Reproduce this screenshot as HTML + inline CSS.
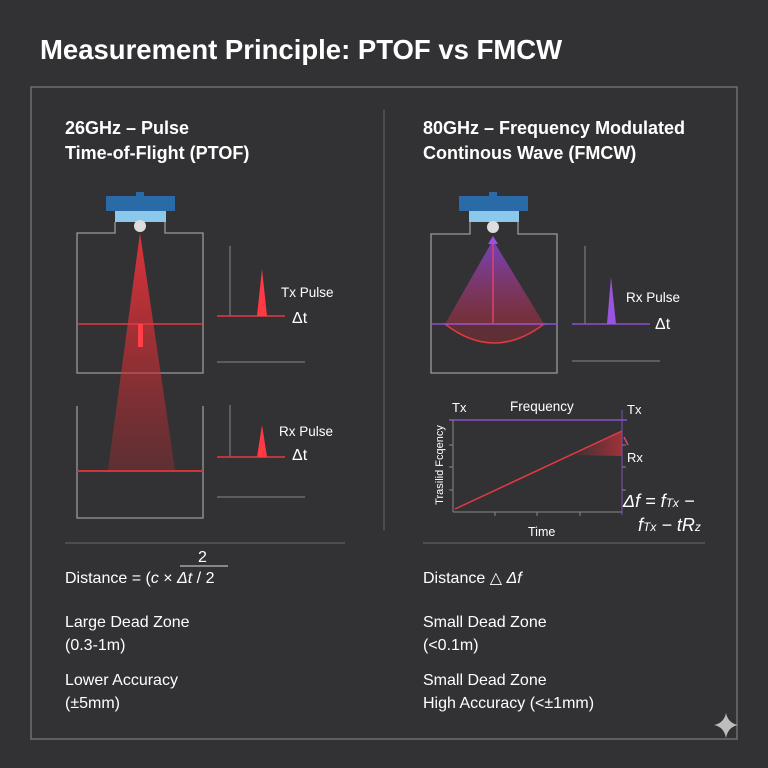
<!DOCTYPE html>
<html><head><meta charset="utf-8"><style>
html,body{margin:0;padding:0;background:#323234;}
svg{display:block;font-family:"Liberation Sans",sans-serif;}
</style></head><body>
<svg width="768" height="768" viewBox="0 0 768 768">
<defs>
<linearGradient id="rb" x1="0" y1="0" x2="0" y2="1">
<stop offset="0" stop-color="#e8333a" stop-opacity="0.95"/><stop offset="1" stop-color="#c02a30" stop-opacity="0.3"/></linearGradient>
<linearGradient id="pb" x1="0" y1="0" x2="0" y2="1">
<stop offset="0" stop-color="#7a45d0" stop-opacity="0.9"/><stop offset="1" stop-color="#c03040" stop-opacity="0.45"/></linearGradient>
<linearGradient id="sh" x1="1" y1="0" x2="0" y2="0">
<stop offset="0" stop-color="#d0303a" stop-opacity="0.7"/><stop offset="1" stop-color="#d0303a" stop-opacity="0"/></linearGradient>
</defs>
<rect width="768" height="768" fill="#323234"/>
<text x="40" y="59" font-size="27.5" font-weight="bold" fill="#fff">Measurement Principle: PTOF vs FMCW</text>
<rect x="31" y="87" width="706" height="652" fill="none" stroke="#6e6e70" stroke-width="1.5"/>
<line x1="384" y1="110" x2="384" y2="530" stroke="#555" stroke-width="1.5"/>
<g font-size="18" font-weight="bold" fill="#fff">
<text x="65" y="134">26GHz – Pulse</text><text x="65" y="159">Time-of-Flight (PTOF)</text>
<text x="423" y="134">80GHz – Frequency Modulated</text><text x="423" y="159">Continous Wave (FMCW)</text>
</g>
<g stroke="#9a9a9c" stroke-width="1.3" fill="none">
<path d="M115,222 V233 H77 V373 H203 V233 H165 V222"/>
<path d="M77,406 V518 H203 V406"/>
</g>
<polygon points="140,233 108,470 175,470" fill="url(#rb)"/>
<rect x="106" y="196" width="69" height="15" fill="#2a6aa6"/>
<rect x="136" y="192" width="8" height="5" fill="#2a6aa6"/>
<rect x="115" y="211" width="51" height="11" fill="#8cc8ec"/>
<circle cx="140" cy="226" r="6" fill="#ddd"/>
<line x1="77" y1="324" x2="203" y2="324" stroke="#e03a40" stroke-width="1.5"/>
<rect x="138" y="324" width="5" height="23" fill="#ff4048"/>
<line x1="77" y1="471" x2="203" y2="471" stroke="#d0343c" stroke-width="2"/>
<g stroke="#888" stroke-width="1"><line x1="230" y1="246" x2="230" y2="316"/><line x1="230" y1="405" x2="230" y2="457"/>
<line x1="217" y1="362" x2="305" y2="362"/><line x1="217" y1="497" x2="305" y2="497"/></g>
<g stroke="#e03a40" stroke-width="1.5"><line x1="217" y1="316" x2="285" y2="316"/><line x1="217" y1="457" x2="285" y2="457"/></g>
<polygon points="257,316 262,269 267,316" fill="#ff3a44"/>
<polygon points="257,457 262,425 267,457" fill="#ff3a44"/>
<g fill="#fff"><text x="281" y="297" font-size="13.5">Tx Pulse</text><text x="292" y="323" font-size="16">Δt</text>
<text x="279" y="436" font-size="13.5">Rx Pulse</text><text x="292" y="460" font-size="16">Δt</text></g>
<path d="M470,222 V234 H431 V373 H557 V234 H518 V222" stroke="#9a9a9c" stroke-width="1.3" fill="none"/>
<polygon points="493,240 445,324 544,324" fill="url(#pb)"/>
<path d="M445,324 Q494,362 544,324 Z" fill="#a02a34" fill-opacity="0.4" stroke="#e03a40" stroke-width="1.5"/>
<line x1="431" y1="324" x2="557" y2="324" stroke="#8a50d0" stroke-width="1.5"/>
<line x1="493" y1="324" x2="493" y2="244" stroke="#e04070" stroke-width="1.5"/>
<polygon points="488,244 493,236 498,244" fill="#9a50e0"/>
<rect x="459" y="196" width="69" height="15" fill="#2a6aa6"/>
<rect x="489" y="192" width="8" height="5" fill="#2a6aa6"/>
<rect x="469" y="211" width="50" height="11" fill="#8cc8ec"/>
<circle cx="493" cy="227" r="6" fill="#ddd"/>
<line x1="585" y1="246" x2="585" y2="324" stroke="#888"/>
<line x1="572" y1="361" x2="660" y2="361" stroke="#888"/>
<line x1="572" y1="324" x2="650" y2="324" stroke="#8a50d0" stroke-width="1.5"/>
<polygon points="607,324 611,277 616,324" fill="#9a55e0"/>
<text x="626" y="302" font-size="13.5" fill="#fff">Rx Pulse</text><text x="655" y="329" font-size="16" fill="#fff">Δt</text>
<polygon points="570,455 622,431 622,456" fill="url(#sh)"/>
<line x1="449" y1="420" x2="627" y2="420" stroke="#8a50d0" stroke-width="1.5"/>
<line x1="622" y1="410" x2="622" y2="515" stroke="#7a50b0" stroke-width="1"/>
<g stroke="#888" stroke-width="1"><line x1="453" y1="420" x2="453" y2="512"/><line x1="453" y1="512" x2="622" y2="512"/>
<line x1="449" y1="445" x2="453" y2="445"/><line x1="449" y1="467" x2="453" y2="467"/><line x1="449" y1="490" x2="453" y2="490"/>
<line x1="495" y1="512" x2="495" y2="516"/><line x1="537" y1="512" x2="537" y2="516"/><line x1="580" y1="512" x2="580" y2="516"/>
<line x1="622" y1="445" x2="626" y2="445"/><line x1="622" y1="467" x2="626" y2="467"/><line x1="622" y1="490" x2="626" y2="490"/></g>
<line x1="455" y1="509" x2="622" y2="431" stroke="#e53a42" stroke-width="1.5"/>
<path d="M624,437 l4,8" stroke="#e04080" stroke-width="1.5"/>
<g fill="#fff"><text x="452" y="412" font-size="13">Tx</text><text x="510" y="411" font-size="13.5">Frequency</text>
<text x="627" y="414" font-size="13">Tx</text><text x="627" y="462" font-size="13">Rx</text>
<text x="528" y="536" font-size="12.5">Time</text>
<text transform="translate(443,465) rotate(-90)" font-size="11" text-anchor="middle">Trasilid Fcqency</text>
<text x="623" y="507" font-size="18" font-style="italic">Δf = f<tspan font-size="12">Tx</tspan> −</text>
<text x="638" y="531" font-size="18" font-style="italic">f<tspan font-size="12">Tx</tspan> − tR<tspan font-size="12">z</tspan></text></g>
<g stroke="#6a6a6c" stroke-width="1"><line x1="65" y1="543" x2="345" y2="543"/><line x1="423" y1="543" x2="705" y2="543"/></g>
<g fill="#fff" font-size="16">
<text x="65" y="583">Distance = (<tspan font-style="italic">c</tspan> × <tspan font-style="italic">Δt</tspan>  / 2</text>
<text x="198" y="562">2</text>
<text x="423" y="583">Distance △ <tspan font-style="italic">Δf</tspan></text>
<text x="65" y="627">Large Dead Zone</text><text x="65" y="650">(0.3-1m)</text>
<text x="65" y="685">Lower Accuracy</text><text x="65" y="708">(±5mm)</text>
<text x="423" y="627">Small Dead Zone</text><text x="423" y="650">(&lt;0.1m)</text>
<text x="423" y="685">Small Dead Zone</text><text x="423" y="708">High Accuracy (&lt;±1mm)</text>
</g>
<line x1="180" y1="566" x2="228" y2="566" stroke="#ddd" stroke-width="1"/>
<path d="M726,713 Q728,723 738,725 Q728,727 726,738 Q724,727 714,725 Q724,723 726,713 Z" fill="#bdbdbd"/>
</svg>
</body></html>
